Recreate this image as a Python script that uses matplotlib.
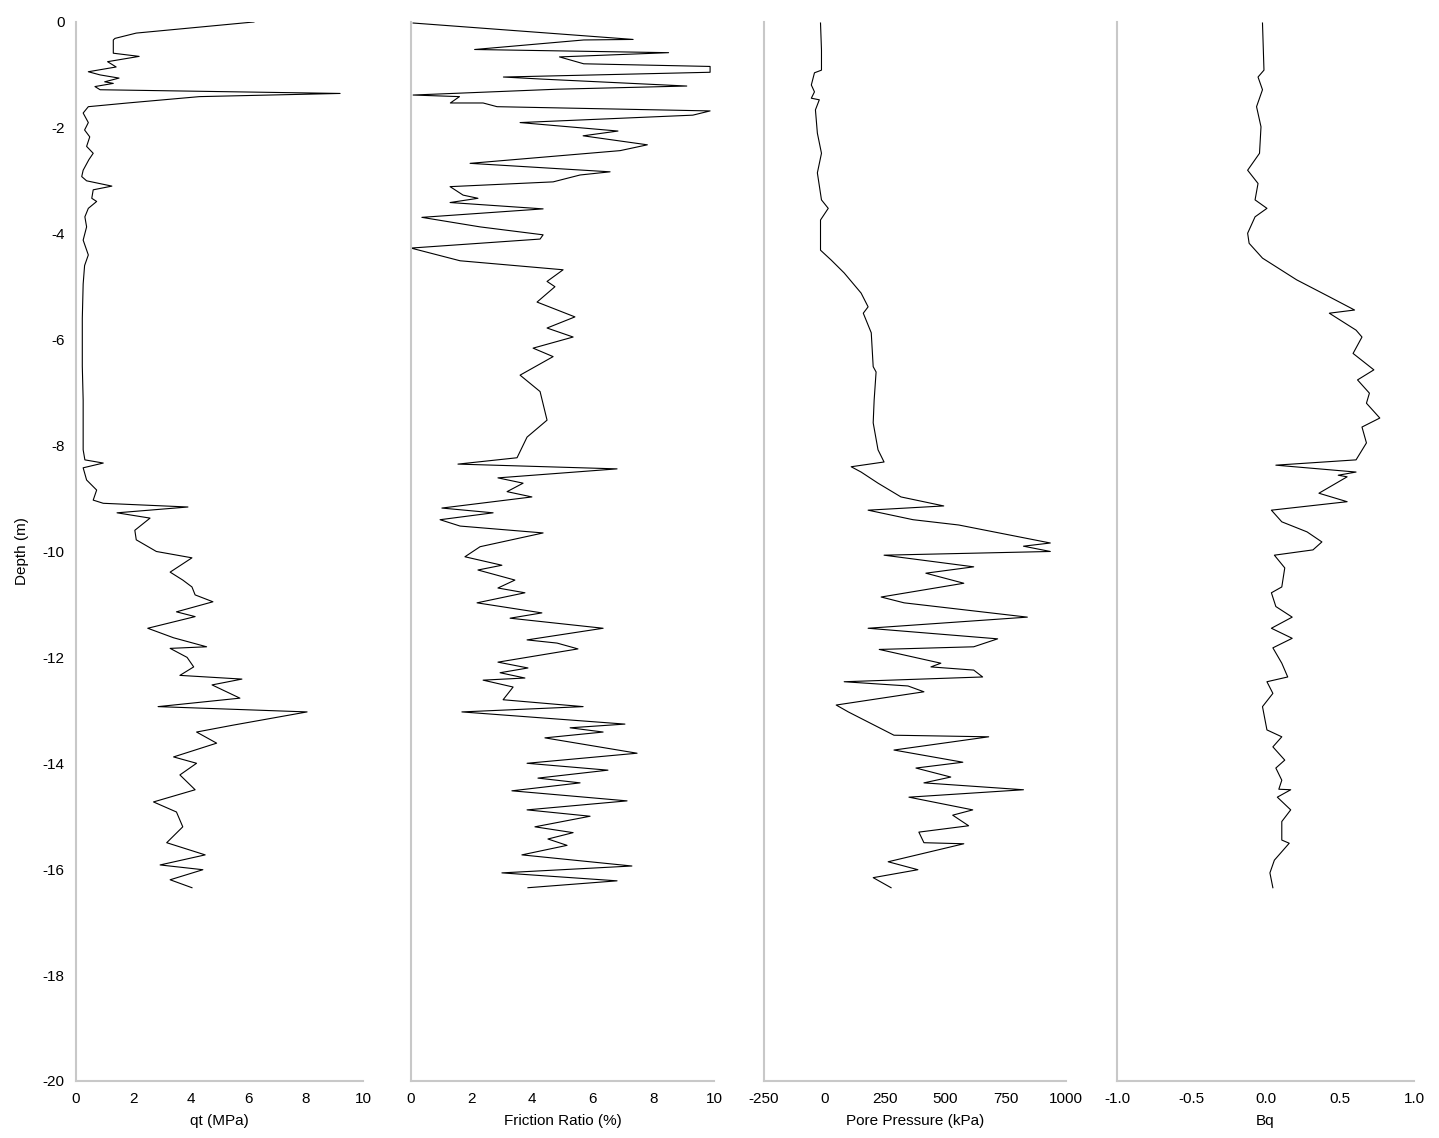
import numpy as np
import matplotlib
matplotlib.use("Agg")
import matplotlib.pyplot as plt

plt.rcParams['font.family'] = ['Liberation Sans', 'DejaVu Sans']
plt.rcParams['axes.unicode_minus'] = False

# qt (MPa) vs depth (m)
qt_depth = [0.0, -0.21, -0.31, -0.34, -0.59, -0.65, -0.75, -0.85, -0.94, -1.0, -1.06, -1.13, -1.16,
            -1.22, -1.28, -1.35, -1.41, -1.53, -1.6, -1.72, -1.9, -2.04, -2.17, -2.35, -2.48, -2.6,
            -2.8, -2.92, -3.0, -3.1, -3.17, -3.33, -3.39, -3.52, -3.68, -3.87, -4.12, -4.4, -4.6,
            -4.95, -5.6, -6.5, -7.14, -8.08, -8.27, -8.33, -8.42, -8.65, -8.84, -9.03, -9.09, -9.16,
            -9.27, -9.37, -9.6, -9.78, -10.0, -10.12, -10.39, -10.54, -10.67, -10.82, -10.95, -11.14,
            -11.23, -11.45, -11.63, -11.8, -11.83, -12.0, -12.18, -12.34, -12.41, -12.52, -12.77,
            -12.93, -13.03, -13.28, -13.41, -13.62, -13.88, -14.0, -14.22, -14.5, -14.73, -14.92,
            -15.2, -15.5, -15.73, -15.92, -16.01, -16.2, -16.35]
qt = [6.2, 2.1, 1.36, 1.3, 1.3, 2.2, 1.1, 1.4, 0.43, 0.84, 1.5, 1.0, 1.3,
      0.66, 0.84, 9.2, 4.3, 1.8, 0.43, 0.25, 0.43, 0.3, 0.48, 0.37, 0.6, 0.45,
      0.25, 0.2, 0.37, 1.25, 0.6, 0.55, 0.72, 0.43, 0.31, 0.37, 0.25, 0.43, 0.3,
      0.25, 0.22, 0.22, 0.25, 0.25, 0.31, 0.95, 0.25, 0.37, 0.72, 0.6, 0.95, 3.9,
      1.43, 2.58, 2.05, 2.1, 2.8, 4.04, 3.28, 3.72, 4.04, 4.15, 4.77, 3.5,
      4.15, 2.5, 3.4, 4.55, 3.28, 3.87, 4.1, 3.62, 5.78, 4.74, 5.71,
      2.86, 8.05, 5.47, 4.2, 4.9, 3.4, 4.2, 3.62, 4.15, 2.7, 3.5,
      3.72, 3.16, 4.5, 2.93, 4.42, 3.28, 4.04]

# Friction ratio (%) vs depth (m)
rf_depth = [-0.02, -0.33, -0.34, -0.52, -0.58, -0.66, -0.79, -0.84, -0.95, -1.04, -1.08, -1.21, -1.27,
            -1.38, -1.41, -1.53, -1.53, -1.6, -1.68, -1.76, -1.9, -2.06, -2.15, -2.32, -2.43, -2.67,
            -2.83, -2.89, -3.02, -3.11, -3.27, -3.33, -3.41, -3.53, -3.69, -3.87, -4.02, -4.1, -4.27,
            -4.51, -4.68, -4.9, -5.0, -5.29, -5.57, -5.78, -5.95, -6.16, -6.32, -6.67, -6.98, -7.52,
            -7.84, -8.23, -8.35, -8.44, -8.61, -8.71, -8.87, -8.97, -9.18, -9.27, -9.4, -9.52, -9.65,
            -9.91, -10.1, -10.26, -10.35, -10.54, -10.69, -10.78, -10.97, -11.16, -11.26, -11.45,
            -11.67, -11.73, -11.84, -12.09, -12.2, -12.29, -12.39, -12.43, -12.56, -12.8, -12.93,
            -13.03, -13.26, -13.33, -13.41, -13.52, -13.81, -14.0, -14.13, -14.28, -14.37, -14.52,
            -14.71, -14.88, -15.0, -15.2, -15.31, -15.43, -15.55, -15.73, -15.94, -16.07, -16.22,
            -16.35]
rf = [0.07, 7.33, 5.7, 2.1, 8.5, 4.9, 5.7, 9.87, 9.87, 3.05, 4.36, 9.1, 4.82,
      0.07, 1.6, 1.3, 2.38, 2.84, 9.87, 9.3, 3.6, 6.83, 5.68, 7.8, 6.9, 1.95,
      6.57, 5.58, 4.69, 1.29, 1.72, 2.21, 1.29, 4.36, 0.36, 2.28, 4.36, 4.26, 0.0,
      1.62, 5.02, 4.49, 4.75, 4.16, 5.41, 4.49, 5.35, 4.03, 4.69, 3.6, 4.26, 4.49,
      3.83, 3.5, 1.55, 6.8, 2.87, 3.7, 3.17, 3.99, 1.02, 2.71, 0.96, 1.62, 4.36,
      2.28, 1.78, 3.0, 2.21, 3.43, 2.87, 3.76, 2.18, 4.32, 3.27, 6.34,
      3.83, 4.82, 5.51, 2.87, 3.86, 2.94, 3.76, 2.38, 3.37, 3.04, 5.68,
      1.68, 7.06, 5.25, 6.34, 4.42, 7.46, 3.83, 6.5, 4.19, 5.58, 3.33,
      7.13, 3.83, 5.91, 4.09, 5.35, 4.52, 5.15, 3.66, 7.29, 3.0, 6.8,
      3.86]

# Pore pressure (kPa) vs depth (m)
u_depth = [-0.02, -0.53, -0.91, -0.96, -1.19, -1.32, -1.44, -1.47, -1.66, -2.1, -2.48, -2.85, -3.36,
           -3.52, -3.74, -4.31, -4.5, -4.74, -5.12, -5.38, -5.5, -5.87, -6.51, -6.61, -7.14, -7.57,
           -8.08, -8.31, -8.4, -8.5, -8.71, -8.97, -9.14, -9.22, -9.4, -9.5, -9.84, -9.9, -10.0,
           -10.07, -10.29, -10.41, -10.6, -10.86, -10.97, -11.24, -11.45, -11.65, -11.8, -11.85,
           -12.11, -12.18, -12.24, -12.37, -12.46, -12.54, -12.65, -12.9, -13.03, -13.47, -13.5,
           -13.75, -13.98, -14.09, -14.26, -14.37, -14.5, -14.64, -14.88, -14.98, -15.18, -15.3,
           -15.5, -15.52, -15.86, -16.01, -16.16, -16.35]
u = [-16, -12, -12, -41, -54, -41, -54, -21, -37, -29, -12, -29, -12,
     16, -16, -16, 29, 82, 152, 181, 161, 194, 202, 214, 206, 202,
     222, 247, 111, 152, 222, 317, 494, 181, 367, 556, 935, 824, 935,
     247, 618, 420, 577, 235, 330, 840, 181, 717, 618, 227,
     482, 441, 618, 655, 82, 346, 412, 49, 99, 288, 680,
     288, 573, 379, 523, 412, 824, 350, 614, 531, 597, 391,
     412, 577, 264, 387, 202, 276]

# Bq vs depth (m)
bq_depth = [-0.02, -0.91, -1.04, -1.28, -1.6, -1.98, -2.48, -2.8, -3.05, -3.36, -3.52, -3.68, -3.99,
            -4.18, -4.46, -4.87, -5.19, -5.44, -5.5, -5.82, -5.95, -6.26, -6.57, -6.76, -7.01, -7.2,
            -7.48, -7.65, -7.95, -8.27, -8.37, -8.5, -8.56, -8.59, -8.9, -9.06, -9.22, -9.44, -9.63,
            -9.82, -9.97, -10.07, -10.31, -10.67, -10.78, -11.04, -11.24, -11.45, -11.64, -11.82,
            -12.11, -12.37, -12.46, -12.68, -12.93, -13.37, -13.5, -13.69, -13.94, -14.09, -14.32,
            -14.49, -14.5, -14.64, -14.88, -15.1, -15.45, -15.51, -15.83, -16.07, -16.35]
bq = [-0.02, -0.01, -0.05, -0.02, -0.06, -0.03, -0.04, -0.12, -0.05, -0.07, 0.01, -0.07, -0.12,
      -0.11, -0.02, 0.21, 0.43, 0.6, 0.43, 0.61, 0.65, 0.59, 0.73, 0.62, 0.7, 0.68,
      0.77, 0.65, 0.68, 0.61, 0.07, 0.61, 0.49, 0.55, 0.36, 0.55, 0.04, 0.11, 0.28,
      0.38, 0.32, 0.06, 0.13, 0.11, 0.04, 0.07, 0.18, 0.04, 0.18, 0.05,
      0.11, 0.15, 0.01, 0.05, -0.02, 0.01, 0.11, 0.05, 0.13, 0.07, 0.11,
      0.09, 0.17, 0.08, 0.17, 0.11, 0.11, 0.16, 0.06, 0.03, 0.05]

panels = [
    (qt, qt_depth, (0, 10), [0, 2, 4, 6, 8, 10], ['0', '2', '4', '6', '8', '10'], 'qt (MPa)'),
    (rf, rf_depth, (0, 10), [0, 2, 4, 6, 8, 10], ['0', '2', '4', '6', '8', '10'], 'Friction Ratio (%)'),
    (u, u_depth, (-250, 1000), [-250, 0, 250, 500, 750, 1000],
     ['-250', '0', '250', '500', '750', '1000'], 'Pore Pressure (kPa)'),
    (bq, bq_depth, (-1.0, 1.0), [-1.0, -0.5, 0.0, 0.5, 1.0],
     ['-1.0', '-0.5', '0.0', '0.5', '1.0'], 'Bq'),
]
lefts = [0.0528, 0.2856, 0.5309, 0.7762]
widths = [0.1995, 0.2106, 0.2099, 0.2064]

fig = plt.figure(figsize=(14.39, 11.38), dpi=100)
for i, (vals, dep, xlim, xt, xtl, xlab) in enumerate(panels):
    ax = fig.add_axes([lefts[i], 0.0501, widths[i], 0.9306])
    ax.plot(vals, dep, color='black', linewidth=0.8)
    ax.set_xlim(*xlim)
    ax.set_ylim(-20, 0)
    ax.set_xticks(xt)
    ax.set_xticklabels(xtl)
    ax.set_yticks(range(-20, 1, 2))
    if i == 0:
        ax.set_yticklabels([str(v) for v in range(-20, 1, 2)])
        ax.set_ylabel('Depth (m)', fontsize=11, labelpad=10)
    else:
        ax.set_yticklabels([])
    ax.set_xlabel(xlab, fontsize=11, labelpad=6)
    ax.tick_params(length=0, labelsize=11, pad=8)
    for s in ['top', 'right']:
        ax.spines[s].set_visible(False)
    for s in ['left', 'bottom']:
        ax.spines[s].set_color('#c8c8c8')
        ax.spines[s].set_linewidth(1.5)

fig.savefig('out.png', dpi=100)
